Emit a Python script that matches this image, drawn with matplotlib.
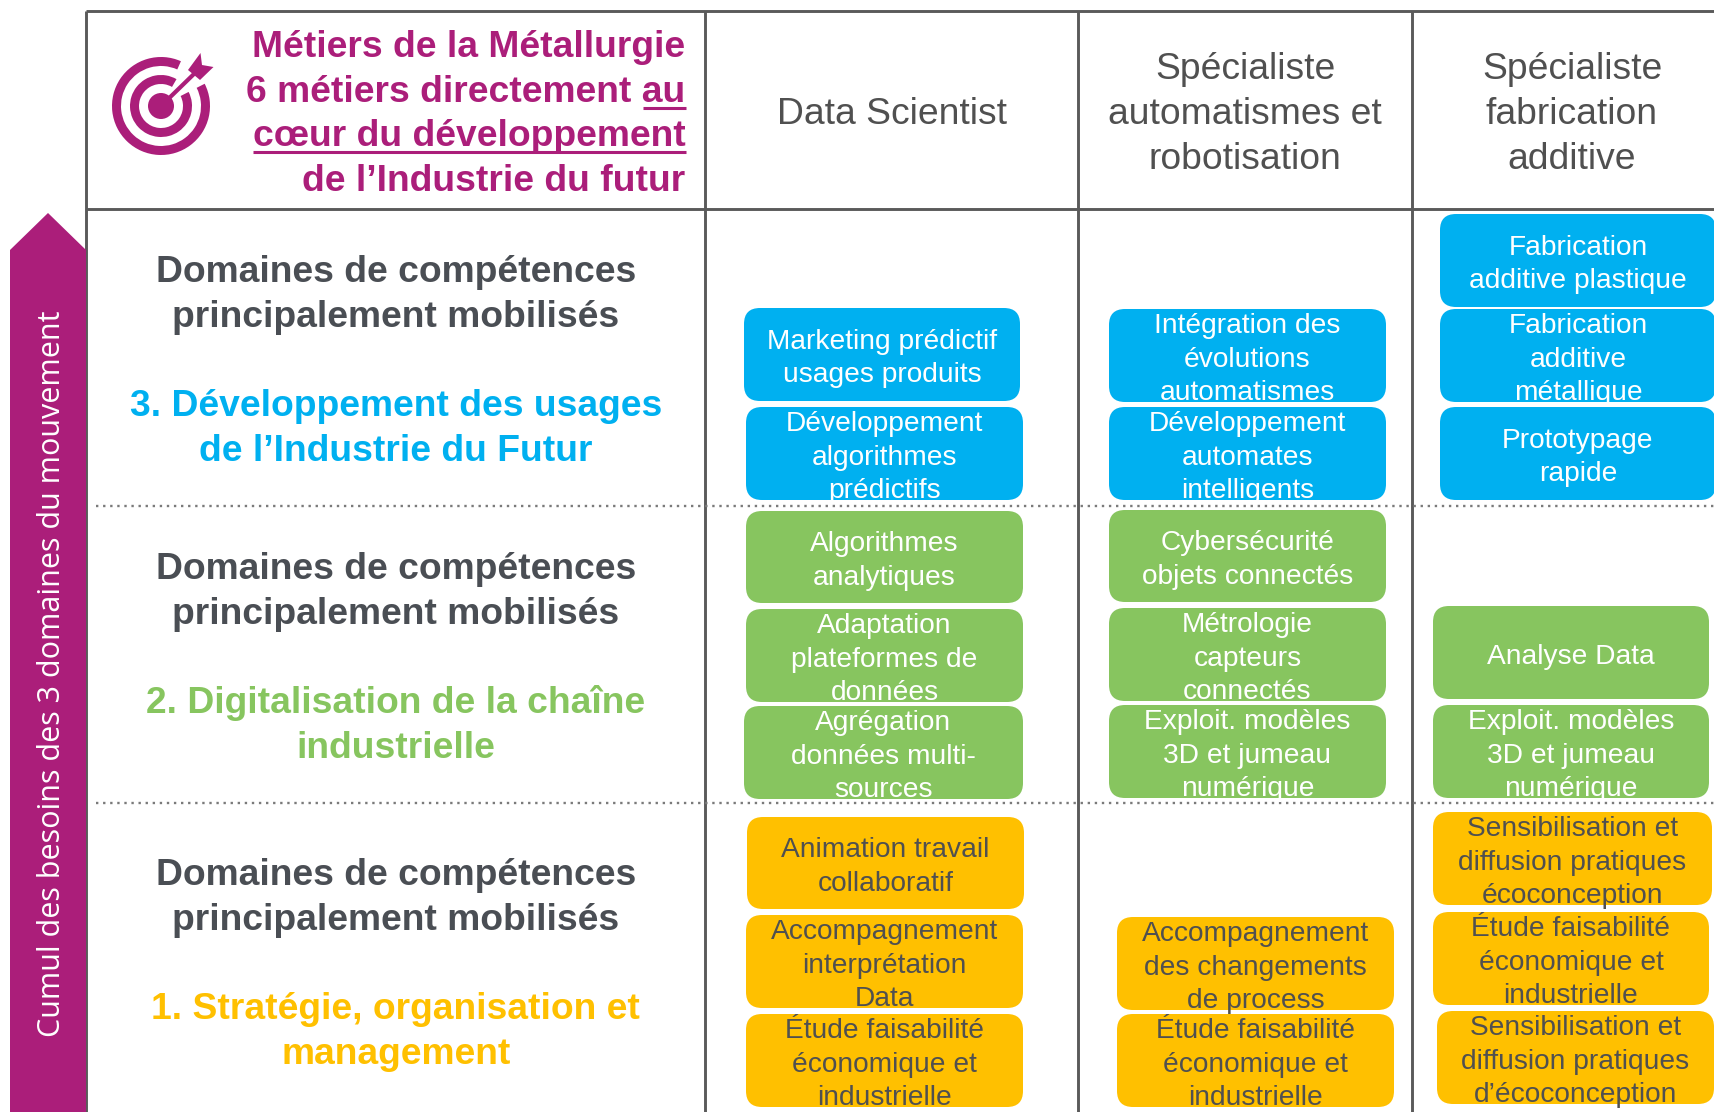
import matplotlib
matplotlib.use("Agg")
import matplotlib.pyplot as plt
from matplotlib.patches import FancyBboxPatch, Polygon, Wedge, Circle

# textes
title_lines = ["Métiers de la Métallurgie", "6 métiers directement au",
               "cœur du développement", "de l’Industrie du futur"]
side_label = "Cumul des besoins des 3 domaines du mouvement"
domain_title = ["Domaines de compétences", "principalement mobilisés"]
domain_names = [["3. Développement des usages", "de l’Industrie du Futur"],
                ["2. Digitalisation de la chaîne", "industrielle"],
                ["1. Stratégie, organisation et", "management"]]
job_names = [["Data Scientist"],
             ["Spécialiste", "automatismes et", "robotisation"],
             ["Spécialiste", "fabrication", "additive"]]

# cases par colonne : (domaine, lignes)
col1_cards = [(3, ["Marketing prédictif", "usages produits"]),
              (3, ["Développement", "algorithmes", "prédictifs"]),
              (2, ["Algorithmes", "analytiques"]),
              (2, ["Adaptation", "plateformes de", "données"]),
              (2, ["Agrégation", "données multi-", "sources"]),
              (1, ["Animation travail", "collaboratif"]),
              (1, ["Accompagnement", "interprétation", "Data"]),
              (1, ["Étude faisabilité", "économique et", "industrielle"])]
col2_cards = [(3, ["Intégration des", "évolutions", "automatismes"]),
              (3, ["Développement", "automates", "intelligents"]),
              (2, ["Cybersécurité", "objets connectés"]),
              (2, ["Métrologie", "capteurs", "connectés"]),
              (2, ["Exploit. modèles", "3D et jumeau", "numérique"]),
              (1, ["Accompagnement", "des changements", "de process"]),
              (1, ["Étude faisabilité", "économique et", "industrielle"])]
col3_cards = [(3, ["Fabrication", "additive plastique"]),
              (3, ["Fabrication", "additive", "métallique"]),
              (3, ["Prototypage", "rapide"]),
              (2, ["Analyse Data"]),
              (2, ["Exploit. modèles", "3D et jumeau", "numérique"]),
              (1, ["Sensibilisation et", "diffusion pratiques", "écoconception"]),
              (1, ["Étude faisabilité", "économique et", "industrielle"]),
              (1, ["Sensibilisation et", "diffusion pratiques", "d’écoconception"])]

# position des cases en pixels : x0, x1, y0, y1
col1_pos = [(744, 1020, 308, 401), (746, 1023, 407, 500), (746, 1023, 511, 603),
            (746, 1023, 609, 702), (744, 1023, 706, 799), (747, 1024, 817, 909),
            (746, 1023, 915, 1008), (746, 1023, 1014, 1107)]
col2_pos = [(1109, 1386, 309, 402), (1109, 1386, 407, 500), (1109, 1386, 510, 602),
            (1109, 1386, 608, 701), (1109, 1386, 705, 798), (1117, 1394, 917, 1010),
            (1117, 1394, 1014, 1107)]
col3_pos = [(1440, 1716, 214, 307), (1440, 1716, 309, 402), (1440, 1716, 407, 500),
            (1433, 1709, 606, 699), (1433, 1709, 705, 798), (1433, 1712, 812, 905),
            (1433, 1709, 912, 1005), (1437, 1714, 1011, 1104)]

COLORS = {3: "#00B0F0", 2: "#87C55F", 1: "#FFC000"}
TEXT_COLORS = {3: "white", 2: "white", 1: "#505050"}
PURPLE = "#AB1E7A"
GREY = "#4A4E54"
LINE = "#5A5A5A"
FONT = "Liberation Sans"

fig = plt.figure(figsize=(17.14, 11.12), dpi=100)
ax = fig.add_axes([0, 0, 1, 1])
ax.set_xlim(0, 1714)
ax.set_ylim(1112, 0)
ax.axis("off")


def put_lines(x, y, lines, size, color, step, ha="center", weight="normal"):
    # y = centre du bloc de lignes
    px = size * 100 / 72
    first = y - step * (len(lines) - 1) / 2
    for i, line in enumerate(lines):
        ax.text(x, first + i * step + 0.36 * px, line, fontsize=size, color=color, ha=ha,
                va="baseline", family=FONT, fontweight=weight, zorder=5)


# grille
for x in [86, 705, 1078, 1412]:
    ax.plot([x, x], [11, 1112], color=LINE, lw=2.1, zorder=1, solid_capstyle="butt")
for y in [11, 209]:
    ax.plot([86, 1714], [y, y], color=LINE, lw=2.1, zorder=1, solid_capstyle="butt")
for y in [506, 803]:
    ax.plot([96, 1714], [y, y], color="#7A7A7A", lw=1.7, dashes=(1, 2.0), zorder=1)

# fleche
ax.add_patch(Polygon([(10, 1112), (10, 250), (48, 213), (86, 250), (86, 1112)],
                     closed=True, facecolor=PURPLE, edgecolor="none", zorder=2))
ax.text(52, 674, side_label, rotation=90, ha="center", va="center", color="white",
        fontsize=22, family="Open Sans", zorder=5)

# cible (axe y inverse : angles negatifs vers le haut)
cx, cy = 161, 106
ax.add_patch(Wedge((cx, cy), 49, -27, 294, width=9, facecolor=PURPLE, edgecolor="none"))
ax.add_patch(Wedge((cx, cy), 31, -27, 300, width=9, facecolor=PURPLE, edgecolor="none"))
ax.add_patch(Circle((cx, cy), 13, facecolor=PURPLE, edgecolor="none"))
ax.plot([cx, 196], [cy, 72], color=PURPLE, lw=3.0, solid_capstyle="butt", zorder=3)
ax.add_patch(Polygon([(200.5, 53), (188, 70), (200, 80), (213.5, 67), (202, 65)],
                     closed=True, facecolor=PURPLE, edgecolor="none", zorder=3))

# titre
put_lines(685.5, 110.5, title_lines, 26.8, PURPLE, 44.8, ha="right", weight="bold")
ax.plot([643, 686], [107.5, 107.5], color=PURPLE, lw=2.2, solid_capstyle="butt")
ax.plot([253, 686], [152, 152], color=PURPLE, lw=2.2, solid_capstyle="butt")

# metiers
for x, job in zip([892, 1245, 1572], job_names):
    put_lines(x, 111, job, 26.8, "#505050", 45)

# colonne des domaines
for y, name, dom in zip([361, 658, 964], domain_names, [3, 2, 1]):
    put_lines(395.7, y - 70, domain_title, 26.8, GREY, 44.8, weight="bold")
    put_lines(395.7, y + 64, name, 26.8, COLORS[dom], 44.8, weight="bold")

# cases
for cards, positions in [(col1_cards, col1_pos), (col2_cards, col2_pos), (col3_cards, col3_pos)]:
    for (dom, lines), (x0, x1, y0, y1) in zip(cards, positions):
        ax.add_patch(FancyBboxPatch((x0, y0), x1 - x0, y1 - y0,
                                    boxstyle="round,pad=0,rounding_size=16",
                                    facecolor=COLORS[dom], edgecolor="none", zorder=3))
        put_lines((x0 + x1) / 2, (y0 + y1) / 2 + 1, lines, 20.25, TEXT_COLORS[dom], 33.3)

fig.savefig("out.png", dpi=100)
